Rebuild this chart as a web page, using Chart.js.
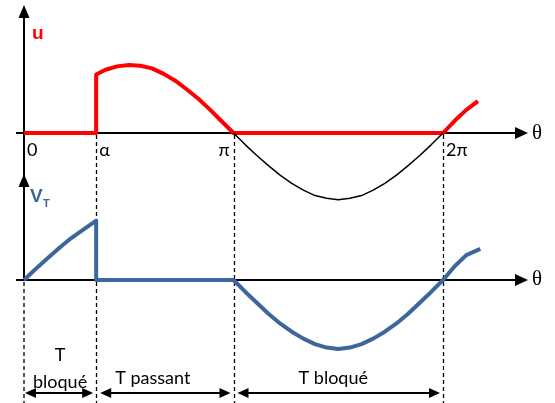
<!DOCTYPE html>
<html>
<head>
<meta charset="utf-8">
<script src="https://cdn.jsdelivr.net/npm/chart.js@4"></script>
<style>
  body { margin: 0; background: #fff; }
  #wrap { width: 555px; height: 403px; }
</style>
</head>
<body>
<div id="wrap"><canvas id="thyristor" width="555" height="403"></canvas></div>
<script>
// firing angle (degrees) and tick marks on the theta axis
const alpha = 62;
const tickAngles = [0, alpha, 180, 360];
const tickLabels = ['0', 'α', 'π', '2π'];

// load voltage u (thick red), amplitude = 1
const uTheta = [0, 62, 62, 70, 80, 90, 100, 110, 120, 130, 140, 150, 160, 170, 180, 360, 370, 380, 390];
const uValues = [0, 0, 0.86, 0.93, 0.98, 1, 0.99, 0.95, 0.87, 0.77, 0.64, 0.5, 0.34, 0.17, 0, 0, 0.18, 0.34, 0.47];

// source voltage, negative half wave (thin black)
const srcTheta = [180, 190, 200, 210, 220, 230, 240, 250, 260, 270, 280, 290, 300, 310, 320, 330, 340, 350, 360];
const srcValues = [0, -0.17, -0.33, -0.48, -0.62, -0.74, -0.84, -0.92, -0.96, -0.98, -0.96, -0.92, -0.84, -0.74, -0.62, -0.48, -0.33, -0.17, 0];

// thyristor voltage V_T (thick blue)
const vtTheta = [0, 10, 20, 30, 40, 50, 62, 62, 180, 190, 200, 210, 220, 230, 240, 250, 260, 270, 280, 290, 300, 310, 320, 330, 340, 350, 360, 370, 380, 392];
const vtValues = [0, 0.16, 0.31, 0.46, 0.6, 0.72, 0.86, 0, 0, -0.17, -0.33, -0.49, -0.63, -0.75, -0.85, -0.93, -0.98, -1, -0.98, -0.93, -0.85, -0.75, -0.63, -0.49, -0.33, -0.17, 0, 0.2, 0.36, 0.45];

// conduction states along the bottom
const stateRanges = [[0, alpha], [alpha, 180], [180, 360]];
const stateLabels = [['T', 'bloqué'], ['T passant'], ['T bloqué']];

const pts = (xs, ys) => xs.map((x, i) => ({ x: x, y: ys[i] }));

function arrowHead(ctx, x, y, dir, len, half) {
  // dir: 'up' | 'right' | 'left'
  ctx.beginPath();
  if (dir === 'up') {
    ctx.moveTo(x, y); ctx.lineTo(x - half, y + len); ctx.lineTo(x + half, y + len);
  } else if (dir === 'right') {
    ctx.moveTo(x, y); ctx.lineTo(x - len, y - half); ctx.lineTo(x - len, y + half);
  } else {
    ctx.moveTo(x, y); ctx.lineTo(x + len, y - half); ctx.lineTo(x + len, y + half);
  }
  ctx.closePath();
  ctx.fill();
}

const axesPlugin = {
  id: 'axes',
  beforeDatasetsDraw(chart) {
    const { ctx, scales } = chart;
    const x = scales.x, yu = scales.yu, yv = scales.yv;
    const x0 = x.getPixelForValue(0);
    const yu0 = yu.getPixelForValue(0);
    const yv0 = yv.getPixelForValue(0);
    ctx.save();
    ctx.strokeStyle = '#000';
    ctx.fillStyle = '#000';

    // dashed verticals
    ctx.lineWidth = 1.3;
    ctx.setLineDash([4, 3]);
    ctx.beginPath();
    ctx.moveTo(x0, yv0 + 2); ctx.lineTo(x0, 403);
    [alpha, 180, 360].forEach(a => {
      const px = Math.round(x.getPixelForValue(a)) + 0.5;
      ctx.moveTo(px, yu0 + 2); ctx.lineTo(px, 403);
    });
    ctx.stroke();
    ctx.setLineDash([]);

    // vertical axis (shared line) and two horizontal axes
    ctx.lineWidth = 2;
    ctx.beginPath();
    ctx.moveTo(x0, 12); ctx.lineTo(x0, yv0);
    ctx.moveTo(16, yu0); ctx.lineTo(516, yu0);
    ctx.moveTo(16, yv0); ctx.lineTo(516, yv0);
    ctx.stroke();
    arrowHead(ctx, x0, 5, 'up', 13, 5.5);
    arrowHead(ctx, x0, 174, 'up', 13, 5.5);
    arrowHead(ctx, 528, yu0, 'right', 13, 6);
    arrowHead(ctx, 528, yv0, 'right', 13, 6);
    ctx.restore();
  },
  afterDatasetsDraw(chart) {
    const { ctx, scales } = chart;
    const x = scales.x, yu = scales.yu, yv = scales.yv;
    const x0 = x.getPixelForValue(0);
    const yu0 = yu.getPixelForValue(0);
    const yv0 = yv.getPixelForValue(0);
    ctx.save();
    ctx.fillStyle = '#000';
    ctx.textBaseline = 'middle';

    // theta symbols
    ctx.font = '21px "Liberation Serif"';
    ctx.textAlign = 'left';
    ctx.fillText('θ', 532, yu0);
    ctx.fillText('θ', 532, yv0);

    // tick labels under the u axis
    ctx.font = '18px Lato';
    tickAngles.forEach((a, i) => {
      const px = x.getPixelForValue(a);
      if (tickLabels[i] === 'π') {
        ctx.textAlign = 'right';
        ctx.fillText(tickLabels[i], px - 4, yu0 + 17);
      } else {
        ctx.textAlign = 'left';
        ctx.fillText(tickLabels[i], px + 3, yu0 + 17);
      }
    });

    // curve names
    ctx.textAlign = 'left';
    ctx.font = 'bold 19px "Liberation Sans"';
    ctx.fillStyle = '#ff0000';
    ctx.fillText('u', x0 + 8, 34);
    ctx.fillStyle = '#3d679a';
    ctx.fillText('V', x0 + 6, 197);
    ctx.font = 'bold 11px "Liberation Sans"';
    ctx.fillText('T', x0 + 19, 204);

    // state arrows and labels
    ctx.fillStyle = '#000';
    ctx.strokeStyle = '#000';
    ctx.lineWidth = 2;
    const ay = 393;
    stateRanges.forEach((r, i) => {
      let a = x.getPixelForValue(r[0]);
      let b = x.getPixelForValue(r[1]);
      const left = i === 0 ? a + 1 : a + 4;
      const right = b - 3;
      ctx.beginPath();
      ctx.moveTo(left + 8, ay); ctx.lineTo(right - 8, ay);
      ctx.stroke();
      arrowHead(ctx, left, ay, 'left', 11, 5);
      arrowHead(ctx, right, ay, 'right', 11, 5);

      ctx.font = '18px Lato';
      ctx.textAlign = 'center';
      ctx.textBaseline = 'alphabetic';
      const lines = stateLabels[i];
      if (lines.length === 2) {
        const mid = (a + b) / 2;
        ctx.fillText(lines[0], mid, 361);
        ctx.fillText(lines[1], mid, 388);
      } else {
        const mid = (a + b) / 2 - (i === 1 ? 12 : 5);
        ctx.fillText(lines[0], mid, 384);
      }
    });
    ctx.restore();
  }
};

new Chart(document.getElementById('thyristor'), {
  type: 'line',
  data: {
    datasets: [
      { data: pts(srcTheta, srcValues), yAxisID: 'yu', borderColor: '#000', borderWidth: 1.5 },
      { data: pts(uTheta, uValues), yAxisID: 'yu', borderColor: '#ff0000', borderWidth: 4 },
      { data: pts(vtTheta, vtValues), yAxisID: 'yv', borderColor: '#3d679a', borderWidth: 4 }
    ]
  },
  options: {
    responsive: false,
    animation: false,
    layout: { padding: 0 },
    elements: { point: { radius: 0 }, line: { tension: 0, borderJoinStyle: 'round', borderCapStyle: 'butt' } },
    plugins: { legend: { display: false }, tooltip: { enabled: false } },
    scales: {
      x: { type: 'linear', display: false, min: -20.62, max: 456.2 },
      yu: { type: 'linear', display: false, min: -3.970, max: 1.956 },
      yv: { type: 'linear', display: false, min: -1.783, max: 4.058 }
    }
  },
  plugins: [axesPlugin]
});
</script>
</body>
</html>
